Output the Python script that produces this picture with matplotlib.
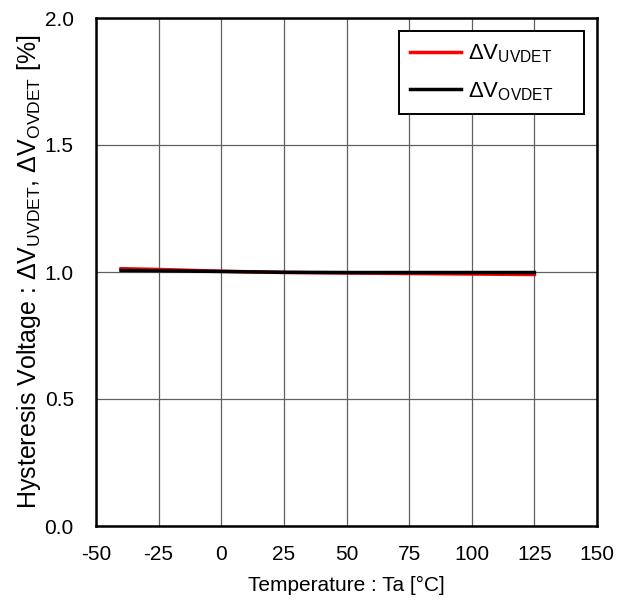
import matplotlib
matplotlib.use("Agg")
import matplotlib.pyplot as plt

plt.rcParams['font.family'] = ['Liberation Sans', 'DejaVu Sans']
plt.rcParams['mathtext.default'] = 'regular'

temps = [-40, -25, 0, 25, 50, 75, 100, 125]
uvdet = [1.013, 1.010, 1.003, 0.998, 0.996, 0.994, 0.992, 0.990]
ovdet = [1.006, 1.005, 1.002, 0.999, 0.998, 0.998, 0.998, 0.998]
xticks = [-50, -25, 0, 25, 50, 75, 100, 125, 150]
yticks = [0.0, 0.5, 1.0, 1.5, 2.0]

fig = plt.figure(figsize=(6.32, 6.06), dpi=100)
ax = fig.add_axes([96/632, 80/606, 501/632, 508/606])

ax.plot(temps, uvdet, color='#ff0000', lw=2.5, label=r'ΔV$_{UVDET}$    ', zorder=3)
ax.plot(temps, ovdet, color='#000000', lw=2.5, label=r'ΔV$_{OVDET}$    ', zorder=4)

ax.set_xlim(-50, 150)
ax.set_ylim(0, 2)
ax.set_xticks(xticks)
ax.set_yticks(yticks)
ax.set_xticklabels([str(t) for t in xticks])
ax.set_yticklabels([f"{t:.1f}" for t in yticks])
ax.tick_params(axis='x', length=0, labelsize=15, pad=14)
ax.tick_params(axis='y', length=0, labelsize=15, pad=16)
ax.grid(True, color='#606060', lw=0.9)
ax.set_axisbelow(True)
for s in ax.spines.values():
    s.set_linewidth(1.8)
    s.set_color('black')

ax.set_xlabel('Temperature : Ta [°C]', fontsize=15, labelpad=8)
ax.set_ylabel(r'Hysteresis Voltage : ΔV$_{UVDET}$, ΔV$_{OVDET}$ [%]', fontsize=18, labelpad=1)

leg = ax.legend(loc='upper right', fontsize=16, frameon=True, fancybox=False,
                edgecolor='black', framealpha=1, handlelength=2.3, handletextpad=0.3,
                borderaxespad=0.6, labelspacing=0.68, borderpad=0.5)
leg.get_frame().set_linewidth(1.4)

fig.savefig('out.png', dpi=100, facecolor='white')
